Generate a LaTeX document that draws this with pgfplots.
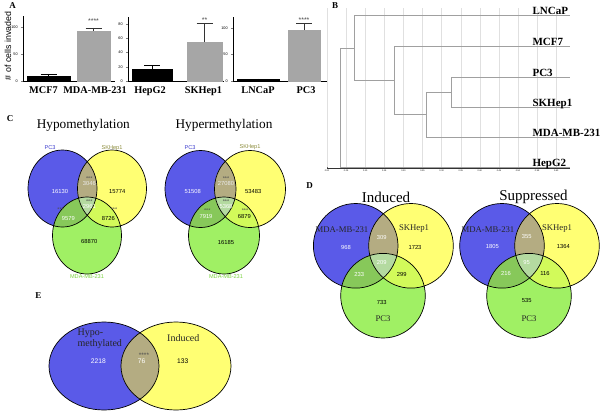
\documentclass[border=0pt]{standalone}
\usepackage{fontspec}
\setmainfont{Liberation Serif}
\setsansfont{Liberation Sans}
\usepackage{pgfplots}
\pgfplotsset{compat=1.18}
\definecolor{vb}{RGB}{90,90,232}
\definecolor{vy}{RGB}{255,255,115}
\definecolor{vg}{RGB}{160,240,100}
\definecolor{vby}{RGB}{180,172,130}
\definecolor{vbg}{RGB}{135,200,90}
\definecolor{vyg}{RGB}{210,250,90}
\definecolor{vbyg}{RGB}{180,218,160}
\definecolor{bargray}{RGB}{166,166,166}
\definecolor{dgray}{RGB}{160,160,160}
\definecolor{lblue}{RGB}{60,60,205}
\definecolor{lolive}{RGB}{140,140,60}
\definecolor{lgreen}{RGB}{120,210,60}
\newcommand{\vthree}[8]{%
\fill[vb] (axis cs:#1,#2) ellipse [x radius=#7pt, y radius=#8pt];
\fill[vy] (axis cs:#3,#4) ellipse [x radius=#7pt, y radius=#8pt];
\fill[vg] (axis cs:#5,#6) ellipse [x radius=#7pt, y radius=#8pt];
\begin{scope}\clip (axis cs:#1,#2) ellipse [x radius=#7pt, y radius=#8pt];
\fill[vby] (axis cs:#3,#4) ellipse [x radius=#7pt, y radius=#8pt];
\fill[vbg] (axis cs:#5,#6) ellipse [x radius=#7pt, y radius=#8pt];
\end{scope}
\begin{scope}\clip (axis cs:#3,#4) ellipse [x radius=#7pt, y radius=#8pt];
\fill[vyg] (axis cs:#5,#6) ellipse [x radius=#7pt, y radius=#8pt];
\end{scope}
\begin{scope}\clip (axis cs:#1,#2) ellipse [x radius=#7pt, y radius=#8pt];
\clip (axis cs:#3,#4) ellipse [x radius=#7pt, y radius=#8pt];
\fill[vbyg] (axis cs:#5,#6) ellipse [x radius=#7pt, y radius=#8pt];
\end{scope}
\draw[line width=0.7pt] (axis cs:#1,#2) ellipse [x radius=#7pt, y radius=#8pt];
\draw[line width=0.7pt] (axis cs:#3,#4) ellipse [x radius=#7pt, y radius=#8pt];
\draw[line width=0.7pt] (axis cs:#5,#6) ellipse [x radius=#7pt, y radius=#8pt];
}
\newcommand{\vnum}{\sffamily\fontsize{5.8}{6}\selectfont}
\newcommand{\vstar}{\sffamily\fontsize{5.5}{6}\selectfont}
\newcommand{\clab}{\sffamily\fontsize{5.6}{6}\selectfont}
\pgfplotsset{barax/.style={scale only axis, anchor=south west,
  axis x line*=bottom, axis y line*=left, ymin=0,
  tick align=outside, major tick length=1.8pt,
  xtick style={draw=none},
  ytick style={line width=0.4pt},
  axis line style={line width=0.7pt},
  yticklabel style={font=\sffamily\fontsize{3.8}{4}\selectfont, /pgf/number format/assume math mode=true},
  xticklabel style={font=\bfseries\fontsize{10.3}{10}\selectfont, yshift=-0.5pt},
  clip=false}}
\begin{document}
\begin{tikzpicture}
% ---------------- canvas (Venn diagrams and titles) ----------------
\begin{axis}[at={(0pt,0pt)}, anchor=north west, scale only axis, width=600pt, height=412pt,
  xmin=0, xmax=600, ymin=0, ymax=412, y dir=reverse, hide axis, clip=false]
% panel letters
\node[font=\bfseries\fontsize{9}{9}\selectfont] at (axis cs:12.5,5.5) {A};
\node[font=\bfseries\fontsize{9}{9}\selectfont] at (axis cs:335,5.5) {B};
\node[font=\bfseries\fontsize{9}{9}\selectfont] at (axis cs:10,118.5) {C};
\node[font=\bfseries\fontsize{9}{9}\selectfont] at (axis cs:309.5,186) {D};
\node[font=\bfseries\fontsize{9}{9}\selectfont] at (axis cs:38.5,295.5) {E};
% y label of panel A
\node[rotate=90, font=\sffamily\fontsize{8.8}{9}\selectfont] at (axis cs:8,46) {\# of cells invaded};
% ---- C ----
\node[font=\fontsize{13.3}{14}\selectfont] at (axis cs:83.3,125.5) {Hypomethylation};
\node[font=\fontsize{13.3}{14}\selectfont] at (axis cs:224,125.5) {Hypermethylation};
\vthree{62.5}{188.5}{112}{188.5}{87}{235.5}{34.5}{38.5}
\vthree{200.5}{189}{250}{189}{224}{235.5}{35.5}{38.5}
\node[font=\clab, text=lblue] at (axis cs:50,148) {PC3};
\node[font=\clab, text=lolive] at (axis cs:112,148) {SKHep1};
\node[font=\clab, text=lgreen] at (axis cs:87,277) {MDA-MB-231};
\node[font=\clab, text=lblue] at (axis cs:190,147.5) {PC3};
\node[font=\clab, text=lolive] at (axis cs:250,147.5) {SKHep1};
\node[font=\clab, text=lgreen] at (axis cs:226,277) {MDA-MB-231};
\node[font=\vnum, text=white] at (axis cs:60,191.7) {16130};
\node[font=\vstar, text=black!70] at (axis cs:89.3,178.5) {***};
\node[font=\vnum, text=white!92!black] at (axis cs:89.3,183.5) {3046};
\node[font=\vnum] at (axis cs:117.3,191.7) {15774};
\node[font=\vstar, text=black!70] at (axis cs:89.3,201.5) {***};
\node[font=\vnum, text=white] at (axis cs:89.3,206) {2961};
\node[font=\vstar, text=black!70] at (axis cs:60.7,210) {***};
\node[font=\vnum, text=white] at (axis cs:68.3,218.5) {9579};
\node[font=\vstar, text=black!70] at (axis cs:114,210) {***};
\node[font=\vnum] at (axis cs:108.3,218.5) {8726};
\node[font=\vnum] at (axis cs:89.3,241.5) {68870};
\node[font=\vnum, text=white] at (axis cs:192.7,191.7) {51508};
\node[font=\vstar, text=black!70] at (axis cs:226,178.5) {***};
\node[font=\vnum, text=white!92!black] at (axis cs:226,183) {27080};
\node[font=\vnum] at (axis cs:253.3,191.7) {53483};
\node[font=\vstar, text=black!70] at (axis cs:226,201.5) {***};
\node[font=\vnum, text=white] at (axis cs:226,206) {5368};
\node[font=\vstar, text=black!70] at (axis cs:207.3,211) {***};
\node[font=\vnum, text=white] at (axis cs:206,216.5) {7919};
\node[font=\vstar, text=black!70] at (axis cs:245,211) {***};
\node[font=\vnum] at (axis cs:244.3,216.5) {6879};
\node[font=\vnum] at (axis cs:226,242) {16185};
% ---- D ----
\node[font=\fontsize{15}{15}\selectfont] at (axis cs:386,197) {Induced};
\node[font=\fontsize{15}{15}\selectfont] at (axis cs:533.5,197) {Suppressed};
\vthree{355.7}{245.8}{411}{245.8}{383}{295.7}{42.3}{42.3}
\vthree{502}{245.8}{557}{245.8}{529}{295.7}{42.3}{42.3}
\node[font=\fontsize{8.7}{9}\selectfont, text=black!85] at (axis cs:342,230) {MDA-MB-231};
\node[font=\fontsize{8.7}{9}\selectfont, text=black!85] at (axis cs:414,229) {SKHep1};
\node[font=\fontsize{8.7}{9}\selectfont, text=black!85] at (axis cs:383,318.5) {PC3};
\node[font=\fontsize{8.7}{9}\selectfont, text=black!85] at (axis cs:488,230) {MDA-MB-231};
\node[font=\fontsize{8.7}{9}\selectfont, text=black!85] at (axis cs:557,229) {SKHep1};
\node[font=\fontsize{8.7}{9}\selectfont, text=black!85] at (axis cs:529,318.5) {PC3};
\node[font=\vnum, text=white] at (axis cs:346,247) {968};
\node[font=\vnum, text=white] at (axis cs:381.7,237.5) {309};
\node[font=\vnum] at (axis cs:415,247) {1723};
\node[font=\vnum, text=white] at (axis cs:381.7,262.7) {209};
\node[font=\vnum, text=white] at (axis cs:359.3,274.3) {233};
\node[font=\vnum] at (axis cs:401.7,274.3) {299};
\node[font=\vnum] at (axis cs:381.7,302) {733};
\node[font=\vnum, text=white] at (axis cs:492.3,246.3) {1805};
\node[font=\vnum, text=white] at (axis cs:526.7,236.3) {355};
\node[font=\vnum] at (axis cs:563.3,246.3) {1364};
\node[font=\vnum, text=white] at (axis cs:526.7,262) {95};
\node[font=\vnum, text=white] at (axis cs:506,273.5) {216};
\node[font=\vnum] at (axis cs:545,273.5) {116};
\node[font=\vnum] at (axis cs:526.7,300.3) {535};
% ---- E ----
\fill[vb] (axis cs:104,366) ellipse [x radius=55pt, y radius=44pt];
\fill[vy] (axis cs:176,366) ellipse [x radius=55pt, y radius=44pt];
\begin{scope}\clip (axis cs:104,366) ellipse [x radius=55pt, y radius=44pt];
\fill[vby] (axis cs:176,366) ellipse [x radius=55pt, y radius=44pt];
\end{scope}
\draw[line width=0.7pt] (axis cs:104,366) ellipse [x radius=55pt, y radius=44pt];
\draw[line width=0.7pt] (axis cs:176,366) ellipse [x radius=55pt, y radius=44pt];
\node[font=\fontsize{10}{10}\selectfont, text=black!85, anchor=west] at (axis cs:74,333) {Hypo-};
\node[font=\fontsize{10}{10}\selectfont, text=black!85, anchor=west] at (axis cs:74,344.5) {methylated};
\node[font=\fontsize{10}{10}\selectfont, text=black!85] at (axis cs:183.3,338) {Induced};
\node[font=\sffamily\fontsize{6.7}{7}\selectfont, text=white] at (axis cs:98.3,361) {2218};
\node[font=\sffamily\fontsize{6.5}{7}\selectfont, text=black!70] at (axis cs:144,355) {****};
\node[font=\sffamily\fontsize{6.7}{7}\selectfont, text=white] at (axis cs:141.7,361) {76};
\node[font=\sffamily\fontsize{6.7}{7}\selectfont] at (axis cs:182.7,361) {133};
\end{axis}
% ---------------- panel A ----------------
\begin{axis}[barax, at={(23pt,-81pt)}, width=92pt, height=65pt,
  xmin=23, xmax=115, ymax=120, ytick={0,50,100},
  xtick={43.5,95}, xticklabels={MCF7,MDA-MB-231}]
\addplot[ybar, fill=black, draw=black, bar width=43pt, bar shift=0pt,
  error bars/.cd, y dir=plus, y explicit, error bar style={line width=0.7pt},
  error mark options={rotate=90, mark size=8pt, line width=0.7pt}]
  coordinates {(48.5,9) +- (0,4)};
\addplot[ybar, fill=bargray, draw=bargray, bar width=33pt, bar shift=0pt,
  error bars/.cd, y dir=plus, y explicit, error bar style={line width=0.7pt, black!80},
  error mark options={rotate=90, mark size=8pt, line width=0.7pt, black!80}]
  coordinates {(93.5,92.5) +- (0,5.5)};
\node[font=\sffamily\fontsize{7}{7}\selectfont, text=black!70] at (axis cs:93.5,111) {****};
\end{axis}
\begin{axis}[barax, at={(128pt,-81pt)}, width=96pt, height=64.3pt,
  xmin=128, xmax=224, ymax=90, ytick={0,20,40,60,80},
  xtick={150,203.5}, xticklabels={HepG2,SKHep1}]
\addplot[ybar, fill=black, draw=black, bar width=40pt, bar shift=0pt,
  error bars/.cd, y dir=plus, y explicit, error bar style={line width=0.7pt},
  error mark options={rotate=90, mark size=8pt, line width=0.7pt}]
  coordinates {(152,17) +- (0,5)};
\addplot[ybar, fill=bargray, draw=bargray, bar width=35pt, bar shift=0pt,
  error bars/.cd, y dir=plus, y explicit, error bar style={line width=0.7pt, black!80},
  error mark options={rotate=90, mark size=8pt, line width=0.7pt, black!80}]
  coordinates {(204.5,54.5) +- (0,26.5)};
\node[font=\sffamily\fontsize{7}{7}\selectfont, text=black!70] at (axis cs:204.5,85) {**};
\end{axis}
\begin{axis}[barax, at={(233pt,-81pt)}, width=95pt, height=64.1pt,
  xmin=233, xmax=328, ymax=121, ytick={0,50,100},
  xtick={258,306}, xticklabels={LNCaP,PC3}]
\addplot[ybar, fill=black, draw=black, bar width=42pt, bar shift=0pt,
  error bars/.cd, y dir=plus, y explicit, error bar style={line width=0.7pt},
  error mark options={rotate=90, mark size=8pt, line width=0.7pt}]
  coordinates {(258,2.5) +- (0,1.5)};
\addplot[ybar, fill=bargray, draw=bargray, bar width=32pt, bar shift=0pt,
  error bars/.cd, y dir=plus, y explicit, error bar style={line width=0.7pt, black!80},
  error mark options={rotate=90, mark size=8pt, line width=0.7pt, black!80}]
  coordinates {(304,96) +- (0,13)};
\node[font=\sffamily\fontsize{7}{7}\selectfont, text=black!70] at (axis cs:304,115) {****};
\end{axis}
% ---------------- panel B (dendrogram) ----------------
\begin{axis}[at={(327pt,-168.3pt)}, anchor=south west, scale only axis,
  width=243pt, height=160pt, xmin=327, xmax=570, ymin=-168.3, ymax=-8.3,
  axis x line*=bottom, axis y line=none,
  axis line style={line width=0.5pt, black!80},
  xtick={327,346.1,365.2,384.3,403.4,422.5,441.6,460.7,479.8,498.9,518,537.1,556.2},
  xticklabels={0.00,0.05,0.10,0.15,0.20,0.25,0.30,0.35,0.40,0.45,0.50,0.55,0.60},
  xticklabel style={font=\sffamily\fontsize{2.2}{2.5}\selectfont, /pgf/number format/assume math mode=true, yshift=1.5pt},
  major tick length=1pt, tick style={black!60},
  xmajorgrids, grid style={black!12, line width=0.3pt}, clip=false]
\addplot[dgray, line width=0.6pt] coordinates {(570,-77.3) (451.7,-77.3) (451.7,-107.3) (570,-107.3)};
\addplot[dgray, line width=0.6pt] coordinates {(451.7,-92.3) (426.7,-92.3) (426.7,-137.3) (570,-137.3)};
\addplot[dgray, line width=0.6pt] coordinates {(426.7,-114.8) (394,-114.8) (394,-46.7) (570,-46.7)};
\addplot[dgray, line width=0.6pt] coordinates {(394,-80.7) (354,-80.7) (354,-15.7) (570,-15.7)};
\addplot[dgray, line width=0.6pt] coordinates {(354,-48.2) (340,-48.2) (340,-167.3) (570,-167.3)};
\node[anchor=base west, font=\bfseries\fontsize{11}{11}\selectfont] at (axis cs:529,-15) {LNCaP};
\node[anchor=base west, font=\bfseries\fontsize{11}{11}\selectfont] at (axis cs:529,-46) {MCF7};
\node[anchor=base west, font=\bfseries\fontsize{11}{11}\selectfont] at (axis cs:529,-76.6) {PC3};
\node[anchor=base west, font=\bfseries\fontsize{11}{11}\selectfont] at (axis cs:529,-106.6) {SKHep1};
\node[anchor=base west, font=\bfseries\fontsize{11}{11}\selectfont] at (axis cs:529,-136.6) {MDA-MB-231};
\node[anchor=base west, font=\bfseries\fontsize{11}{11}\selectfont] at (axis cs:529,-166.6) {HepG2};
\end{axis}
\pgfresetboundingbox
\useasboundingbox (0pt,0pt) rectangle (600pt,-412pt);
\end{tikzpicture}
\end{document}
